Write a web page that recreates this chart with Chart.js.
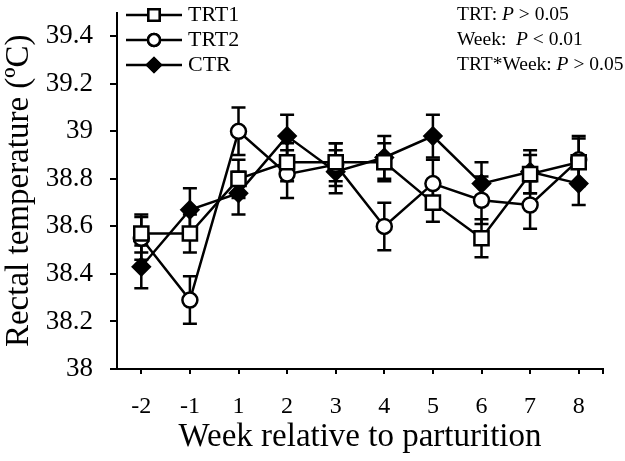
<!DOCTYPE html>
<html>
<head>
<meta charset="utf-8">
<script src="https://cdn.jsdelivr.net/npm/chart.js@4"></script>
<style>
  html, body { margin: 0; padding: 0; background: #fff; }
  #wrap { width: 625px; height: 461px; }
</style>
</head>
<body>
<div id="wrap"><canvas id="grafico" width="625" height="461"></canvas></div>
<script>
// Datos
const weeks = ['-2', '-1', '1', '2', '3', '4', '5', '6', '7', '8'];
const trt1 = [38.57, 38.57, 38.80, 38.87, 38.87, 38.87, 38.70, 38.55, 38.82, 38.87];
const trt2 = [38.55, 38.29, 39.00, 38.82, 38.86, 38.60, 38.78, 38.71, 38.69, 38.88];
const ctr  = [38.43, 38.67, 38.74, 38.98, 38.83, 38.89, 38.98, 38.78, 38.83, 38.78];
const trt1Se = [0.08, 0.08, 0.08, 0.08, 0.08, 0.08, 0.08, 0.08, 0.08, 0.10];
const trt2Se = [0.09, 0.10, 0.10, 0.10, 0.09, 0.10, 0.10, 0.10, 0.10, 0.10];
const ctrSe  = [0.09, 0.09, 0.09, 0.09, 0.09, 0.09, 0.09, 0.09, 0.09, 0.09];
const yTicks = [38, 38.2, 38.4, 38.6, 38.8, 39, 39.2, 39.4];
const statLines = [
    [['TRT: ', false], ['P', true], [' > 0.05', false]],
    [['Week:  ', false], ['P', true], [' < 0.01', false]],
    [['TRT*Week: ', false], ['P', true], [' > 0.05', false]]
];

const serif = "'Liberation Serif', 'Times New Roman', serif";

// Barras de error (media ± EE), dibujadas antes de los marcadores
const errorBars = {
    id: 'errorBars',
    beforeDatasetsDraw(chart) {
        const ctx = chart.ctx;
        const y = chart.scales.y;
        ctx.save();
        ctx.strokeStyle = '#000';
        ctx.lineWidth = 2.5;
        chart.data.datasets.forEach((ds, i) => {
            const meta = chart.getDatasetMeta(i);
            meta.data.forEach((pt, j) => {
                const top = y.getPixelForValue(ds.data[j] + ds.se[j]);
                const bot = y.getPixelForValue(ds.data[j] - ds.se[j]);
                ctx.beginPath();
                ctx.moveTo(pt.x, top); ctx.lineTo(pt.x, bot);
                ctx.moveTo(pt.x - 7, top); ctx.lineTo(pt.x + 7, top);
                ctx.moveTo(pt.x - 7, bot); ctx.lineTo(pt.x + 7, bot);
                ctx.stroke();
            });
        });
        ctx.restore();
    },
    afterDraw(chart) {
        const ctx = chart.ctx;
        const area = chart.chartArea;
        ctx.save();
        // marca final del eje x
        ctx.strokeStyle = '#000';
        ctx.lineWidth = 2;
        ctx.beginPath();
        ctx.moveTo(area.right, area.bottom);
        ctx.lineTo(area.right, area.bottom + 5);
        ctx.stroke();

        // leyenda con línea y marcador
        ctx.font = '22px ' + serif;
        ctx.textBaseline = 'middle';
        ctx.fillStyle = '#000';
        ctx.lineWidth = 2.5;
        chart.data.datasets.forEach((ds, i) => {
            const ly = 15 + i * 25;
            ctx.beginPath();
            ctx.moveTo(126, ly); ctx.lineTo(182, ly);
            ctx.stroke();
            Chart.helpers.drawPoint(ctx, {
                pointStyle: ds.pointStyle,
                radius: ds.pointRadius * 0.8,
                borderWidth: 2
            }, 154, ly);
            ctx.fillStyle = ds.pointBackgroundColor;
            ctx.fill();
            ctx.stroke();
            ctx.fillStyle = '#000';
            ctx.fillText(ds.label, 188, ly);
        });

        // estadísticos
        statLines.forEach((parts, i) => {
            let x = 457;
            const ly = 15 + i * 25;
            parts.forEach(([txt, it]) => {
                ctx.font = (it ? 'italic ' : '') + '19.5px ' + serif;
                ctx.fillText(txt, x, ly);
                x += ctx.measureText(txt).width;
            });
        });
        ctx.restore();
    }
};

const ctxLineas = document.getElementById('grafico').getContext('2d');
new Chart(ctxLineas, {
    type: 'line',
    data: {
        labels: weeks,
        datasets: [{
            label: 'TRT1',
            data: trt1,
            se: trt1Se,
            pointStyle: 'rect',
            pointRadius: 10,
            pointBackgroundColor: '#fff'
        }, {
            label: 'TRT2',
            data: trt2,
            se: trt2Se,
            pointStyle: 'circle',
            pointRadius: 7.5,
            pointBackgroundColor: '#fff'
        }, {
            label: 'CTR',
            data: ctr,
            se: ctrSe,
            pointStyle: 'rectRot',
            pointRadius: 8.5,
            pointBackgroundColor: '#000'
        }].map(d => Object.assign(d, {
            borderColor: '#000',
            borderWidth: 2.5,
            pointBorderColor: '#000',
            pointBorderWidth: 2.5,
            pointHoverRadius: d.pointRadius,
            tension: 0
        }))
    },
    options: {
        responsive: false,
        animation: false,
        maintainAspectRatio: false,
        layout: { padding: { top: 6, right: 22, left: 0, bottom: 0 } },
        plugins: {
            legend: { display: false },
            tooltip: { enabled: false }
        },
        scales: {
            x: {
                offset: true,
                grid: { drawOnChartArea: false, offset: false, tickLength: 5, color: '#000', lineWidth: 2 },
                border: { color: '#000', width: 2 },
                ticks: { color: '#000', font: { family: serif, size: 24 }, padding: 18, maxRotation: 0 },
                title: {
                    display: true,
                    text: 'Week relative to parturition',
                    color: '#000',
                    font: { family: serif, size: 33 },
                    padding: { top: 0, bottom: 4 }
                },
                afterFit(scale) {
                    scale.height = 92;
                    scale.paddingLeft = 0;
                    scale.paddingRight = 0;
                }
            },
            y: {
                min: 38,
                max: 39.5,
                afterBuildTicks(scale) { scale.ticks = yTicks.map(v => ({ value: v })); },
                grid: { drawOnChartArea: false, tickLength: 7, color: '#000', lineWidth: 2 },
                border: { color: '#000', width: 2 },
                ticks: {
                    color: '#000',
                    font: { family: serif, size: 27 },
                    padding: 17,
                    callback: v => String(Math.round(v * 10) / 10)
                },
                title: {
                    display: true,
                    text: 'Rectal temperature (ºC)',
                    color: '#000',
                    font: { family: serif, size: 33 },
                    padding: { top: 0, bottom: 0 }
                },
                afterFit(scale) {
                    scale.width = 117;
                    scale.paddingTop = 0;
                    scale.paddingBottom = 0;
                }
            }
        }
    },
    plugins: [errorBars]
});
</script>
</body>
</html>
